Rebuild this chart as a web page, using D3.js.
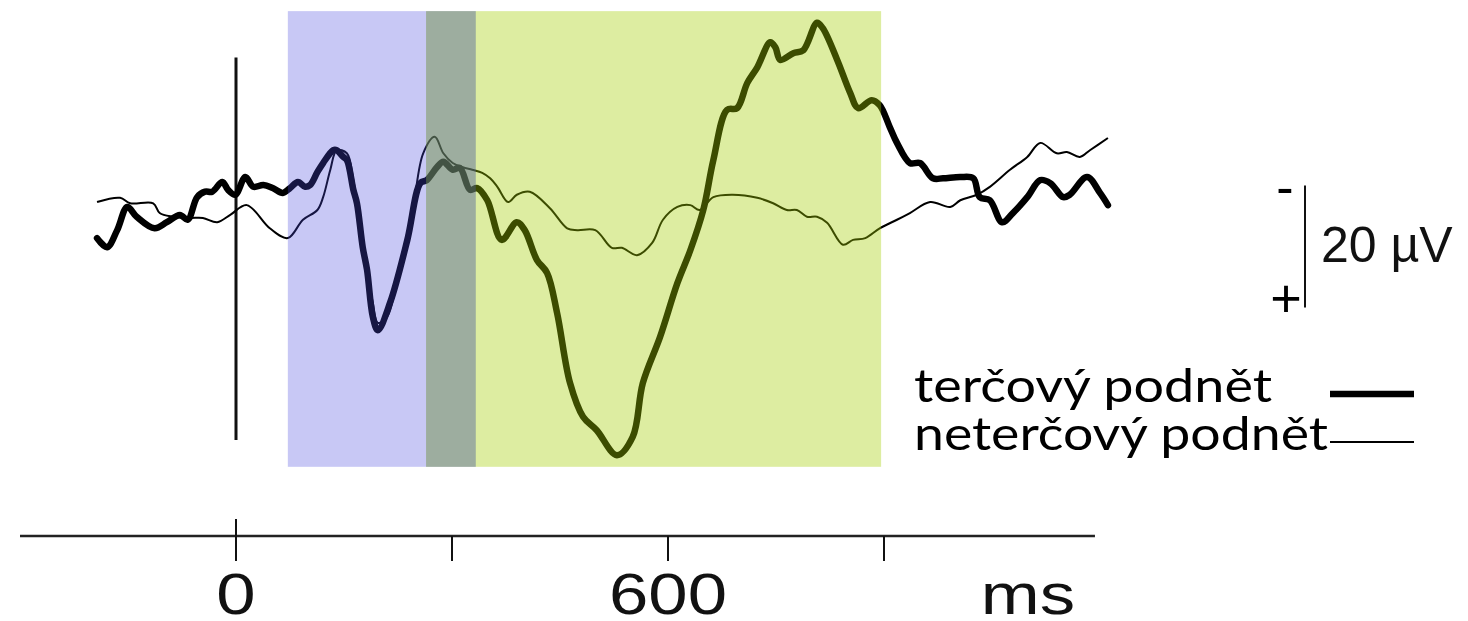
<!DOCTYPE html>
<html>
<head>
<meta charset="utf-8">
<script src="https://cdn.jsdelivr.net/npm/d3@7"></script>
<style>
  html, body { margin: 0; padding: 0; background: #fff; }
  svg { display: block; }
</style>
</head>
<body>
<svg></svg>
<script>
// ERP: target (thick) vs non-target (thin), time in ms, amplitude in µV (negative up)
const targetWave = [
  [-193, 4.6], [-179, 6.1], [-165, 3.3], [-151, -0.5], [-138, 1.1], [-113, 3.0],
  [-96, 2.0], [-78, 0.8], [-67, 1.6], [-54, -2.1], [-43, -3.0], [-33, -3.0],
  [-19, -4.6], [-11, -3.3], [-1, -2.5], [13, -5.4], [24, -3.8], [38, -4.1],
  [51, -3.6], [65, -2.8], [75, -3.6], [86, -4.6], [96, -3.8], [103, -4.1],
  [113, -6.2], [121, -7.7], [135, -9.8], [140, -9.8], [149, -8.7], [154, -8.2],
  [163, -3.3], [168, -1.1], [176, 6.1], [182, 9.8], [190, 17.5], [197, 19.7],
  [214, 15.2], [238, 4.9], [256, -4.4], [265, -4.9], [279, -7.0], [288, -7.9],
  [301, -6.6], [311, -6.9], [325, -3.3], [335, -3.6], [349, -1.6], [369, 4.9],
  [390, 2.0], [401, 3.3], [418, 8.2], [432, 10.3], [446, 16.9], [464, 28.4],
  [482, 33.9], [501, 36.1], [529, 40.2], [551, 37.2], [565, 28.4], [589, 20.8],
  [613, 12.0], [631, 6.6], [649, 0], [663, -8.2], [682, -16.4], [696, -16.7],
  [710, -20.8], [724, -23.4], [742, -27.5], [749, -26.7], [756, -24.6], [774, -25.7],
  [788, -26.2], [807, -30.7], [815, -29.8], [835, -24.6], [853, -19.2], [864, -16.7],
  [883, -18.0], [894, -17.2], [908, -13.6], [918, -11.0], [936, -7.7], [950, -7.7],
  [968, -5.2], [982, -5.2], [1006, -5.4], [1024, -5.2], [1033, -2.1], [1047, -1.6],
  [1064, 2.0], [1079, 0.5], [1099, -2.1], [1117, -4.9], [1131, -4.4], [1149, -2.1],
  [1158, -2.5], [1182, -5.4], [1200, -2.8], [1211, -0.8]
];

const nontargetWave = [
  [-193, -1.3], [-161, -2.0], [-147, -1.1], [-115, -1.1], [-106, 0.5], [-88, 1.1],
  [-64, 1.3], [-46, 1.3], [-26, 2.0], [-8, 0.8], [15, -0.8], [47, 3.0],
  [72, 4.6], [93, 1.6], [113, 0], [121, -2.1], [131, -6.6], [140, -9.8],
  [154, -9.3], [163, -4.9], [176, 4.9], [190, 15.2], [197, 18.5], [210, 17.5],
  [228, 8.7], [246, -0.5], [260, -9.3], [276, -12.0], [288, -9.3], [301, -7.7],
  [315, -7.0], [328, -6.6], [342, -6.1], [353, -5.2], [363, -3.8], [378, -1.3],
  [390, -2.5], [408, -3.0], [436, -0.3], [460, 3.0], [474, 3.3], [499, 3.3],
  [522, 6.2], [536, 6.2], [557, 7.4], [578, 5.4], [593, 1.6], [613, -0.5],
  [631, -0.8], [644, 0], [663, -2.1], [690, -2.5], [724, -2.0], [746, -1.1],
  [765, 0], [779, 0], [793, 1.1], [807, 1.1], [821, 2.1], [843, 5.7],
  [857, 4.9], [874, 4.6], [894, 3.0], [918, 1.6], [936, 0.5], [964, -1.3],
  [992, -0.5], [1006, -1.6], [1029, -2.5], [1047, -3.8], [1075, -6.6], [1099, -8.7],
  [1117, -11.0], [1140, -9.3], [1154, -9.5], [1172, -8.7], [1186, -9.8], [1211, -11.8]
];

// analysis windows (ms)
const windows = [
  { name: "early", from: 72, to: 333, color: "#4949df", opacity: 0.3 },
  { name: "late", from: 264, to: 896, color: "#a2cd00", opacity: 0.37 }
];
const windowRange = [-32.6, 42.1];   // µV extent of the shading
const stimulusRange = [-25, 37.7];   // µV extent of the onset marker

const xTicks = [0, 300, 600, 900];
const xLabels = [0, 600];
const xUnit = { value: 1100, text: "ms" };
const scaleBar = { from: -4, to: 16, label: "20 µV" };

const legendItems = [
  { label: "terčový podnět", width: 6.5 },
  { label: "neterčový podnět", width: 2.2 }
];

const W = 1468, H = 621;
const svg = d3.select("svg").attr("width", W).attr("height", H);

const x = d3.scaleLinear().domain([-300, 1200]).range([20, 1100]);
const y = d3.scaleLinear().domain([-30, 40]).range([27, 454]);

const line = d3.line()
  .x(d => x(d[0]))
  .y(d => y(d[1]))
  .curve(d3.curveCatmullRom.alpha(0.5));

// onset marker
svg.append("line")
  .attr("x1", x(0)).attr("x2", x(0))
  .attr("y1", y(stimulusRange[0])).attr("y2", y(stimulusRange[1]))
  .attr("stroke", "#111").attr("stroke-width", 3);

// waves
svg.append("path")
  .datum(nontargetWave)
  .attr("d", line)
  .attr("fill", "none")
  .attr("stroke", "#000")
  .attr("stroke-width", 2)
  .attr("stroke-linejoin", "round");

svg.append("path")
  .datum(targetWave)
  .attr("d", line)
  .attr("fill", "none")
  .attr("stroke", "#000")
  .attr("stroke-width", 6.5)
  .attr("stroke-linejoin", "round")
  .attr("stroke-linecap", "round");

// shaded windows over the waves
svg.selectAll(".win")
  .data(windows)
  .join("rect")
  .attr("class", "win")
  .attr("x", d => x(d.from))
  .attr("width", d => x(d.to) - x(d.from))
  .attr("y", y(windowRange[0]))
  .attr("height", y(windowRange[1]) - y(windowRange[0]))
  .attr("fill", d => d.color)
  .attr("fill-opacity", d => d.opacity);

// overlap of the two windows is a darker grey-blue
const ovFrom = d3.max(windows, d => d.from), ovTo = d3.min(windows, d => d.to);
svg.append("rect")
  .attr("x", x(ovFrom))
  .attr("width", x(ovTo) - x(ovFrom))
  .attr("y", y(windowRange[0]))
  .attr("height", y(windowRange[1]) - y(windowRange[0]))
  .attr("fill", "#2c3cb0")
  .attr("fill-opacity", 0.2);

// time axis
const axisY = 536;
svg.append("line")
  .attr("x1", x.range()[0]).attr("x2", x(1193))
  .attr("y1", axisY).attr("y2", axisY)
  .attr("stroke", "#222").attr("stroke-width", 2.5);

svg.selectAll(".tick")
  .data(xTicks)
  .join("line")
  .attr("class", "tick")
  .attr("x1", d => x(d)).attr("x2", d => x(d))
  .attr("y1", d => d === 0 ? axisY - 17 : axisY)
  .attr("y2", axisY + 25)
  .attr("stroke", "#111").attr("stroke-width", 2);

const axisText = (val, txt) => svg.append("text")
  .attr("transform", `translate(${x(val)},614) scale(1.22,1)`)
  .attr("text-anchor", "middle")
  .style("font-family", "'Liberation Sans', Arial, sans-serif")
  .style("font-size", "58px")
  .attr("fill", "#111")
  .text(txt);

xLabels.forEach(v => axisText(v, String(v)));
axisText(xUnit.value, xUnit.text);

// amplitude scale bar
const barX = 1305;
svg.append("line")
  .attr("x1", barX).attr("x2", barX)
  .attr("y1", y(scaleBar.from)).attr("y2", y(scaleBar.to))
  .attr("stroke", "#111").attr("stroke-width", 2);

const sans = "'Liberation Sans', Arial, sans-serif";
svg.append("text").attr("x", 1285).attr("y", 205)
  .attr("text-anchor", "middle").style("font-family", sans).style("font-size", "52px")
  .text("-");
svg.append("text").attr("x", 1286).attr("y", 317)
  .attr("text-anchor", "middle").style("font-family", sans).style("font-size", "54px")
  .text("+");
svg.append("text").attr("x", 1321).attr("y", 262)
  .style("font-family", sans).style("font-size", "50px").attr("fill", "#111")
  .text(scaleBar.label);

// legend
const legend = svg.append("g");
const legendRows = [
  { textY: 402, lineY: 394, x1: 1330, textLen: 358 },
  { textY: 450, lineY: 442, x1: 1330, textLen: 414 }
];
legendItems.forEach((item, i) => {
  const r = legendRows[i];
  legend.append("text")
    .attr("x", 914).attr("y", r.textY)
    .attr("textLength", r.textLen)
    .attr("lengthAdjust", "spacingAndGlyphs")
    .style("font-family", "Lato, 'Open Sans', sans-serif")
    .style("font-size", "47px")
    .text(item.label);
  legend.append("line")
    .attr("x1", r.x1).attr("x2", 1414)
    .attr("y1", r.lineY).attr("y2", r.lineY)
    .attr("stroke", "#000").attr("stroke-width", item.width);
});
</script>
</body>
</html>
